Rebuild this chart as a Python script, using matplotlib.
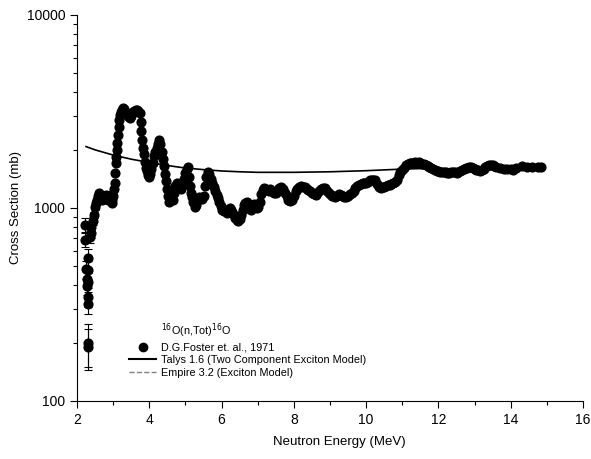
import matplotlib
matplotlib.use("Agg")

import matplotlib.pyplot as plt
from matplotlib.lines import Line2D
from matplotlib.ticker import MultipleLocator, LogLocator, NullFormatter, FixedLocator

plt.rcParams["font.family"] = ["Liberation Sans", "DejaVu Sans"]

# total cross section, low-energy points with visible uncertainties
E_LOW = [2.21, 2.21, 2.25, 2.27, 2.28, 2.30, 2.30, 2.30, 2.31, 2.30, 2.30, 2.31,
         2.35, 2.38, 2.40, 2.43, 2.46, 2.50]
SIG_LOW = [817, 683, 480, 430, 395, 550, 477, 414, 346, 318, 200, 190,
           710, 740, 800, 860, 920, 1010]
ERR_LOW = [70, 55, 50, 45, 40, 65, 55, 45, 40, 35, 50, 45,
           50, 45, 40, 40, 35, 35]

# remaining measured points (MeV, mb)
E_DATA = [2.52, 2.55, 2.58, 2.60, 2.63, 2.66, 2.70, 2.73, 2.76, 2.80, 2.83, 2.86,
          2.90, 2.93, 2.96, 2.98, 3.00, 3.02, 3.04, 3.05, 3.07, 3.08, 3.10, 3.11,
          3.13, 3.15, 3.17, 3.19, 3.22, 3.25, 3.28, 3.31, 3.34, 3.37, 3.40, 3.43,
          3.46, 3.49, 3.52, 3.55, 3.58, 3.62, 3.66, 3.70, 3.73, 3.76, 3.78, 3.80,
          3.82, 3.85, 3.88, 3.91, 3.94, 3.97, 4.00, 4.03, 4.06, 4.10, 4.13, 4.16,
          4.20, 4.24, 4.28, 4.31, 4.34, 4.37, 4.40, 4.43, 4.46, 4.49, 4.52, 4.55,
          4.58, 4.62, 4.65, 4.68, 4.72, 4.76, 4.80, 4.84, 4.88, 4.92, 4.96, 5.00,
          5.04, 5.07, 5.10, 5.12, 5.15, 5.18, 5.22, 5.26, 5.30, 5.34, 5.38, 5.42,
          5.46, 5.50, 5.54, 5.58, 5.62, 5.66, 5.70, 5.74, 5.78, 5.82, 5.86, 5.90,
          5.94, 5.98, 6.02, 6.06, 6.10, 6.14, 6.18, 6.22, 6.26, 6.30, 6.34, 6.38,
          6.42, 6.46, 6.50, 6.54, 6.58, 6.62, 6.66, 6.70, 6.74, 6.78, 6.82, 6.86,
          6.90, 6.94, 6.98, 7.02, 7.06, 7.10, 7.14, 7.18, 7.22, 7.26, 7.30, 7.35,
          7.40, 7.45, 7.50, 7.55, 7.60, 7.65, 7.70, 7.75, 7.80, 7.85, 7.90, 7.95,
          8.00, 8.05, 8.10, 8.15, 8.20, 8.25, 8.30, 8.35, 8.40, 8.45, 8.50, 8.55,
          8.60, 8.65, 8.70, 8.75, 8.80, 8.85, 8.90, 8.95, 9.00, 9.05, 9.10, 9.15,
          9.20, 9.25, 9.30, 9.35, 9.40, 9.45, 9.50, 9.55, 9.60, 9.65, 9.70, 9.75,
          9.80, 9.85, 9.90, 9.95, 10.00, 10.05, 10.10, 10.15, 10.20, 10.25, 10.30, 10.35,
          10.40, 10.45, 10.50, 10.55, 10.60, 10.65, 10.70, 10.75, 10.80, 10.85, 10.90, 10.95,
          11.00, 11.05, 11.10, 11.15, 11.20, 11.25, 11.30, 11.35, 11.40, 11.45, 11.50, 11.55,
          11.60, 11.65, 11.70, 11.75, 11.80, 11.85, 11.90, 11.95, 12.00, 12.05, 12.10, 12.15,
          12.20, 12.25, 12.30, 12.35, 12.40, 12.45, 12.50, 12.55, 12.60, 12.65, 12.70, 12.75,
          12.80, 12.85, 12.90, 12.95, 13.00, 13.05, 13.10, 13.15, 13.20, 13.25, 13.30, 13.35,
          13.40, 13.45, 13.50, 13.55, 13.60, 13.70, 13.80, 13.90, 14.00, 14.05, 14.15, 14.30,
          14.45, 14.60, 14.75, 14.85]
SIG_DATA = [1060, 1100, 1150, 1195, 1170, 1120, 1100, 1130, 1150, 1170, 1140, 1100,
            1130, 1170, 1100, 1060, 1150, 1250, 1350, 1520, 1700, 1840, 2000, 2170,
            2400, 2630, 2850, 3030, 3150, 3220, 3300, 3250, 3150, 3050, 3000, 2950,
            2930, 3000, 3100, 3150, 3180, 3200, 3220, 3180, 3100, 2800, 2500, 2250,
            2050, 1900, 1730, 1620, 1550, 1480, 1450, 1500, 1600, 1700, 1850, 1950,
            2050, 2150, 2250, 2150, 1950, 1800, 1650, 1500, 1380, 1250, 1150, 1080,
            1150, 1240, 1100, 1200, 1300, 1350, 1320, 1280, 1250, 1330, 1420, 1520,
            1600, 1630, 1450, 1300, 1200, 1140, 1080, 1010, 1040, 1100, 1140, 1130,
            1110, 1150, 1300, 1450, 1540, 1500, 1420, 1350, 1280, 1220, 1170, 1120,
            1070, 1020, 980, 960, 975, 940, 960, 1000, 980, 955, 920, 890,
            870, 860, 880, 920, 980, 1030, 1060, 1075, 1040, 1000, 980, 1010,
            1050, 1030, 1000, 1010, 1080, 1180, 1240, 1270, 1260, 1240, 1230, 1260,
            1220, 1190, 1200, 1240, 1270, 1290, 1250, 1200, 1150, 1100, 1090, 1100,
            1160, 1220, 1260, 1290, 1300, 1290, 1280, 1260, 1240, 1220, 1200, 1180,
            1170, 1190, 1220, 1250, 1270, 1270, 1240, 1210, 1180, 1160, 1150, 1140,
            1160, 1180, 1170, 1150, 1140, 1140, 1160, 1180, 1200, 1230, 1270, 1300,
            1320, 1330, 1340, 1350, 1350, 1370, 1390, 1400, 1400, 1390, 1330, 1280,
            1270, 1280, 1290, 1300, 1310, 1320, 1330, 1350, 1370, 1400, 1480, 1540,
            1580, 1620, 1660, 1690, 1700, 1710, 1720, 1730, 1720, 1730, 1710, 1690,
            1680, 1660, 1650, 1630, 1610, 1590, 1570, 1560, 1550, 1545, 1540, 1530,
            1530, 1520, 1525, 1530, 1535, 1530, 1520, 1540, 1560, 1580, 1600, 1610,
            1620, 1625, 1630, 1620, 1600, 1580, 1570, 1560, 1570, 1600, 1630, 1650,
            1660, 1670, 1660, 1650, 1640, 1620, 1600, 1600, 1590, 1570, 1620, 1650,
            1640, 1630, 1640, 1630]

# Talys 1.6 calculation
E_TALYS = [2.25, 2.5, 3.0, 3.5, 4.0, 4.5, 5.0, 5.5, 6.0, 6.5, 7.0, 7.5,
           8.0, 8.5, 9.0, 9.5, 10.0, 10.5, 11.0, 11.5, 12.0]
SIG_TALYS = [2080, 2000, 1880, 1790, 1720, 1660, 1610, 1580, 1555, 1540, 1530, 1530,
             1530, 1535, 1540, 1550, 1560, 1575, 1590, 1600, 1610]

fig = plt.figure(figsize=(5.91, 4.59), dpi=100, facecolor="white")
ax = fig.add_axes([0.1303, 0.1264, 0.8562, 0.8410])

ax.plot(E_TALYS, SIG_TALYS, color="black", linewidth=1.2, zorder=2)
ax.errorbar(E_LOW, SIG_LOW, yerr=ERR_LOW, fmt="o", color="black",
            markersize=6.3, elinewidth=0.8, capsize=3, capthick=0.8, zorder=3)
ax.plot(E_DATA, SIG_DATA, "o", color="black", markersize=6.3, zorder=3)

ax.set_yscale("log")
ax.set_xlim(2, 16)
ax.set_ylim(100, 10000)

ax.xaxis.set_major_locator(MultipleLocator(2))
ax.xaxis.set_minor_locator(MultipleLocator(1))
ax.yaxis.set_major_locator(FixedLocator([100, 1000, 10000]))
ax.yaxis.set_major_formatter(matplotlib.ticker.FuncFormatter(lambda v, p: f"{int(v)}"))
ax.yaxis.set_minor_locator(LogLocator(base=10, subs=range(2, 10)))
ax.yaxis.set_minor_formatter(NullFormatter())

ax.tick_params(which="major", direction="out", length=5, width=0.8, labelsize=10)
ax.tick_params(which="minor", direction="out", length=3, width=0.8)

for side in ("top", "right"):
    ax.spines[side].set_visible(False)
for side in ("left", "bottom"):
    ax.spines[side].set_linewidth(0.8)

ax.set_xlabel("Neutron Energy (MeV)", fontsize=9.5)
ax.xaxis.set_label_coords(0.518, -0.09)
ax.set_ylabel("Cross Section (mb)", fontsize=9.5)
ax.yaxis.set_label_coords(-0.109, 0.5)

handles = [
    Line2D([], [], linestyle="none"),
    Line2D([], [], marker="o", linestyle="none", color="black", markersize=6),
    Line2D([], [], color="black", linewidth=1.5),
    Line2D([], [], color="gray", linestyle="--", linewidth=1.0),
]
labels = [
    r"$^{16}$O(n,Tot)$^{16}$O",
    "D.G.Foster et. al., 1971",
    "Talys 1.6 (Two Component Exciton Model)",
    "Empire 3.2 (Exciton Model)",
]
ax.legend(handles, labels, loc="upper left", bbox_to_anchor=(0.095, 0.218),
          frameon=False, fontsize=7.8, handlelength=2.5, handletextpad=0.4,
          labelspacing=0.25, borderaxespad=0)

fig.savefig("out.png", dpi=100, facecolor="white")
